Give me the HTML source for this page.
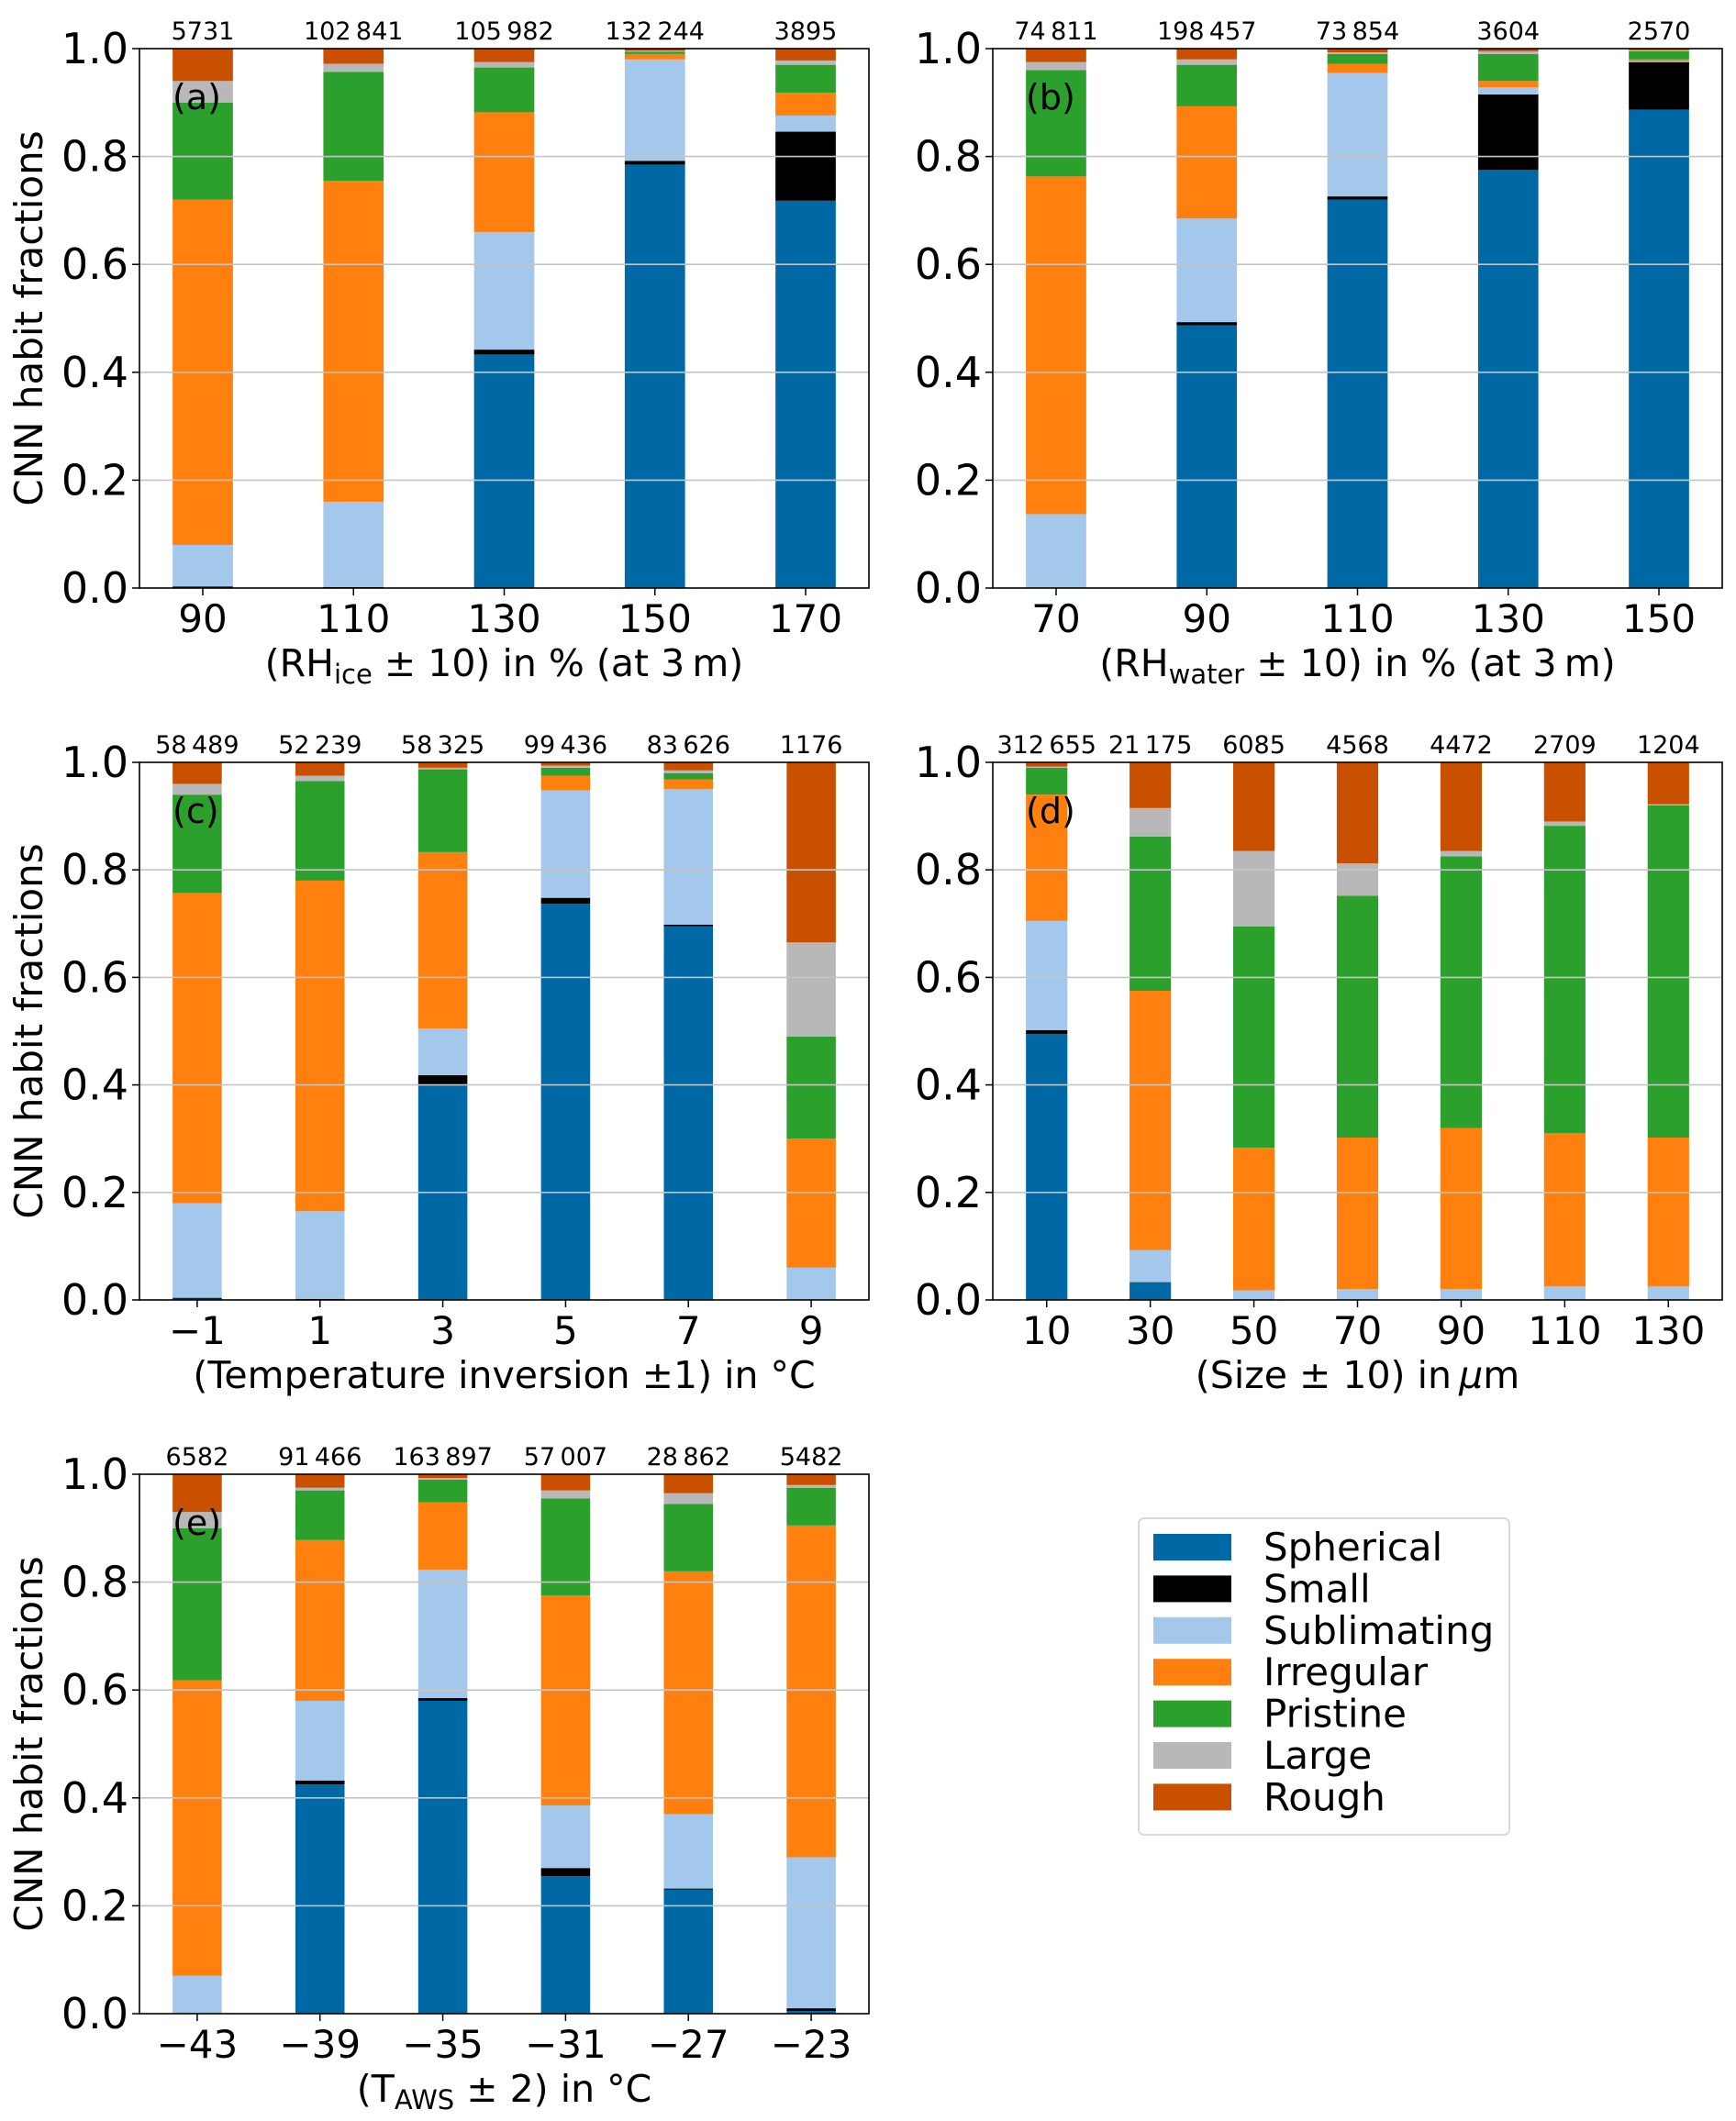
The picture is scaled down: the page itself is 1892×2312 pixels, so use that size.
<!DOCTYPE html>
<html><head><meta charset="utf-8">
<style>
html,body{margin:0;padding:0;background:#fff;}
svg{display:block;font-family:"DejaVu Sans","Liberation Sans",sans-serif;}
</style></head>
<body>
<svg id="fig" width="1892" height="2312" viewBox="0 0 1892 2312" xmlns="http://www.w3.org/2000/svg"></svg>
<script>
// ---- data ----
const habits = ["Spherical","Small","Sublimating","Irregular","Pristine","Large","Rough"];
const habitColors = ["#0069a5","#000000","#a3c8eb","#ff7f0f","#2ca02c","#b8b8b8","#c85000"];

const catsA = ["90","110","130","150","170"];
const countsA = ["5731","102\u2009841","105\u2009982","132\u2009244","3895"];
const sphA=[0,0,.433,.785,.718], smallA=[.003,.002,.009,.007,.128], sublA=[.077,.158,.218,.188,.03],
      irrA=[.64,.595,.222,.01,.042], priA=[.18,.202,.083,.004,.052], largeA=[.04,.015,.01,.002,.008], roughA=[.06,.028,.025,.004,.022];

const catsB = ["70","90","110","130","150"];
const countsB = ["74\u2009811","198\u2009457","73\u2009854","3604","2570"];
const sphB=[0,.487,.72,.775,.887], smallB=[.001,.006,.006,.14,.088], sublB=[.136,.192,.229,.013,.002],
      irrB=[.626,.208,.017,.012,.003], priB=[.197,.077,.018,.05,.015], largeB=[.015,.01,.003,.005,.002], roughB=[.025,.02,.007,.005,.003];

const catsC = ["\u22121","1","3","5","7","9"];
const countsC = ["58\u2009489","52\u2009239","58\u2009325","99\u2009436","83\u2009626","1176"];
const sphC=[.002,0,.4,.737,.695,0], smallC=[.002,.002,.018,.011,.003,0], sublC=[.176,.163,.087,.2,.252,.06],
      irrC=[.577,.615,.328,.027,.018,.24], priC=[.183,.185,.154,.015,.012,.19], largeC=[.02,.01,.003,.004,.005,.175], roughC=[.04,.025,.01,.006,.015,.335];

const catsD = ["10","30","50","70","90","110","130"];
const countsD = ["312\u2009655","21\u2009175","6085","4568","4472","2709","1204"];
const sphD=[.495,.032,0,0,0,0,0], smallD=[.007,.001,0,0,0,0,0], sublD=[.203,.06,.018,.02,.02,.025,.025],
      irrD=[.235,.482,.265,.282,.3,.285,.277], priD=[.05,.287,.412,.45,.505,.572,.618], largeD=[.002,.053,.14,.06,.01,.008,.002], roughD=[.008,.085,.165,.188,.165,.11,.078];

const catsE = ["\u221243","\u221239","\u221235","\u221231","\u221227","\u221223"];
const countsE = ["6582","91\u2009466","163\u2009897","57\u2009007","28\u2009862","5482"];
const sphE=[0,.425,.58,.255,.23,.005], smallE=[0,.007,.005,.015,.002,.005], sublE=[.07,.148,.238,.116,.138,.28],
      irrE=[.548,.298,.125,.389,.45,.615], priE=[.282,.092,.042,.18,.125,.07], largeE=[.03,.005,.003,.015,.02,.005], roughE=[.07,.025,.007,.03,.035,.02];

const yTicks = [0,0.2,0.4,0.6,0.8,1.0];
const yTickLabels = ["0.0","0.2","0.4","0.6","0.8","1.0"];

// ---- drawing ----
const NS="http://www.w3.org/2000/svg";
const svg=document.getElementById('fig');
function mk(tag,attrs,parent){const e=document.createElementNS(NS,tag);for(const k in attrs)e.setAttribute(k,attrs[k]);(parent||svg).appendChild(e);return e;}

function panel(id,x0,y0,x1,y1,cats,counts,series,letter,xlabelParts,showY){
  const g=mk('g',{});
  
  
  const n=cats.length, w=0.4, lo=-w/2, hi=n-1+w/2, m=(hi-lo)*0.05;
  const xs=v=>x0+(v-(lo-m))/((hi+m)-(lo-m))*(x1-x0);
  const ys=v=>y1-v*(y1-y0);
  for(let i=0;i<n;i++){
    let cum=0;
    for(let s=0;s<series.length;s++){
      const v=series[s][i];
      const r=mk('rect',{x:xs(i-w/2),y:ys(cum+v),width:xs(i+w/2)-xs(i-w/2),height:Math.max(0,ys(cum)-ys(cum+v)),fill:habitColors[s]},g);
      
      
      cum+=v;
    }
    const t=mk('text',{x:xs(i),y:y0-10,'font-size':27,'text-anchor':'middle'},g);
    t.textContent=counts[i];
    
    
  }
  yTicks.forEach((v,k)=>{
    if(v>0&&v<1) mk('line',{x1:x0,x2:x1,y1:ys(v),y2:ys(v),stroke:'#c4c4c4','stroke-width':1.6},g);
    mk('line',{x1:x0-8,x2:x0,y1:ys(v),y2:ys(v),stroke:'#000','stroke-width':1.5},g);
    const t=mk('text',{x:x0-12,y:ys(v)+16,'font-size':46,'text-anchor':'end'},g);
    t.textContent=yTickLabels[k];
    
    
  });
  for(let i=0;i<n;i++){
    mk('line',{x1:xs(i),x2:xs(i),y1:y1,y2:y1+8,stroke:'#000','stroke-width':1.5},g);
    const t=mk('text',{x:xs(i),y:y1+48,'font-size':42,'text-anchor':'middle'},g);
    t.textContent=cats[i];
    
    
  }
  const f=mk('rect',{x:x0,y:y0,width:x1-x0,height:y1-y0,fill:'none',stroke:'#000','stroke-width':1.6},g);
  
  
  const pl=mk('text',{x:x0+36,y:y0+66,'font-size':38},g);
  pl.textContent='('+letter+')';
  
  
  const xl=mk('text',{x:(x0+x1)/2,y:y1+96,'font-size':41,'text-anchor':'middle'},g);
  
  
  xlabelParts.forEach(p=>{
    const ts=mk('tspan',{},xl);
    if(p.sub){ts.setAttribute('font-size',29);ts.setAttribute('dy',8);}
    else if(p.after){ts.setAttribute('dy',-8);}
    if(p.it) ts.setAttribute('font-style','italic');
    ts.textContent=p.t;
  });
  if(showY){
    const yt=mk('text',{x:0,y:0,'font-size':42,'text-anchor':'middle',transform:`translate(${x0-106},${(y0+y1)/2}) rotate(-90)`},g);
    yt.textContent='CNN habit fractions';
    
    
  }
}

const LX0=152,LX1=947,RX0=1082,RX1=1877;
panel('a',LX0,53,LX1,641,catsA,countsA,[sphA,smallA,sublA,irrA,priA,largeA,roughA],'a',
  [{t:'(RH'},{t:'ice',sub:1},{t:' \u00b1 10) in %  (at 3\u2009m)',after:1}],true);
panel('b',RX0,53,RX1,641,catsB,countsB,[sphB,smallB,sublB,irrB,priB,largeB,roughB],'b',
  [{t:'(RH'},{t:'water',sub:1},{t:' \u00b1 10) in %  (at 3\u2009m)',after:1}],false);
panel('c',LX0,831,LX1,1417,catsC,countsC,[sphC,smallC,sublC,irrC,priC,largeC,roughC],'c',
  [{t:'(Temperature inversion \u00b11) in \u00b0C'}],true);
panel('d',RX0,831,RX1,1417,catsD,countsD,[sphD,smallD,sublD,irrD,priD,largeD,roughD],'d',
  [{t:'(Size \u00b1 10) in\u2009'},{t:'\u03bc',it:1},{t:'m'}],false);
panel('e',LX0,1607,LX1,2195,catsE,countsE,[sphE,smallE,sublE,irrE,priE,largeE,roughE],'e',
  [{t:'(T'},{t:'AWS',sub:1},{t:' \u00b1 2) in \u00b0C',after:1}],true);

const lg=mk('g',{});


mk('rect',{x:1241,y:1655,width:404,height:345,rx:6,fill:'#fff',stroke:'#d8d8d8','stroke-width':2},lg);
habits.forEach((h,i)=>{
  const y=1672+i*45.4;
  const e=mk('g',{},lg);
  
  
  mk('rect',{x:1257,y:y,width:85,height:29,fill:habitColors[i]},e);
  const t=mk('text',{x:1377,y:y+29,'font-size':42},e);
  t.textContent=h;
});
</script>
</body></html>
